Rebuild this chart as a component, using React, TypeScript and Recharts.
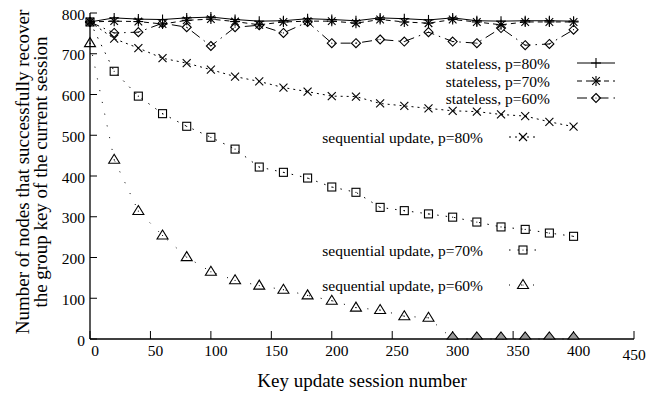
import { LineChart, Line, XAxis, YAxis, Legend } from 'recharts'

const sessions = [0, 20, 40, 60, 80, 100, 120, 140, 160, 180, 200, 220, 240, 260, 280, 300, 320, 340, 360, 380, 400]

const stateless80 = [778, 788, 785, 784, 788, 790, 784, 780, 781, 786, 784, 781, 788, 786, 783, 788, 781, 780, 781, 781, 780]
const stateless70 = [778, 780, 779, 773, 782, 785, 779, 771, 778, 780, 780, 775, 784, 778, 775, 784, 778, 771, 778, 778, 778]
const stateless60 = [778, 751, 753, 775, 765, 719, 765, 770, 751, 778, 726, 726, 735, 730, 753, 730, 726, 763, 721, 724, 759]
const sequential80 = [778, 737, 714, 689, 677, 661, 644, 632, 617, 607, 596, 595, 578, 572, 566, 560, 558, 551, 547, 533, 521]
const sequential70 = [778, 657, 596, 553, 522, 495, 466, 422, 409, 395, 373, 360, 323, 315, 307, 299, 287, 275, 269, 260, 252]
const sequential60 = [726, 440, 314, 254, 201, 165, 144, 131, 121, 107, 94, 77, 71, 56, 52, 0, 0, 0, 0, 0, 0]

const xTicks = [0, 50, 100, 150, 200, 250, 300, 350, 400, 450]
const yTicks = [0, 100, 200, 300, 400, 500, 600, 700, 800]

const FONT = '"Liberation Serif", "Times New Roman", Times, serif'

type MarkKind = 'plus' | 'star' | 'diamond' | 'cross' | 'square' | 'triangle'

const series: { key: string; name: string; values: number[]; mark: MarkKind; dash?: string }[] = [
  { key: 'q60', name: 'sequential update, p=60%', values: sequential60, mark: 'triangle', dash: '1 11' },
  { key: 'q70', name: 'sequential update, p=70%', values: sequential70, mark: 'square', dash: '1.5 7' },
  { key: 'q80', name: 'sequential update, p=80%', values: sequential80, mark: 'cross', dash: '2 4' },
  { key: 's60', name: 'stateless, p=60%', values: stateless60, mark: 'diamond', dash: '10 5 1.5 5' },
  { key: 's70', name: 'stateless, p=70%', values: stateless70, mark: 'star', dash: '5 4' },
  { key: 's80', name: 'stateless, p=80%', values: stateless80, mark: 'plus' },
]

// where each key entry sits (text right edge, sample line, marker)
const keyLayout: Record<string, { tx: number; y: number; x1: number; x2: number; mx: number }> = {
  s80: { tx: 550, y: 63, x1: 577, x2: 615, mx: 596 },
  s70: { tx: 550, y: 81, x1: 577, x2: 615, mx: 596 },
  s60: { tx: 550, y: 98, x1: 577, x2: 615, mx: 596 },
  q80: { tx: 483, y: 137, x1: 509, x2: 537, mx: 523 },
  q70: { tx: 483, y: 250, x1: 509, x2: 537, mx: 523 },
  q60: { tx: 483, y: 285, x1: 509, x2: 537, mx: 523 },
}

const rows = sessions.map((x, i) => {
  const row: Record<string, number> = { x }
  series.forEach(s => { row[s.key] = s.values[i] })
  return row
})

function Mark({ kind, cx, cy, zero }: { kind: MarkKind; cx: number; cy: number; zero?: boolean }) {
  const st = { stroke: '#000', strokeWidth: 1.1, fill: 'none' }
  const dot = <circle cx={cx} cy={cy} r={0.6} fill="#000" />
  switch (kind) {
    case 'plus':
      return (
        <g>
          <line x1={cx - 5} y1={cy} x2={cx + 5} y2={cy} {...st} />
          <line x1={cx} y1={cy - 5} x2={cx} y2={cy + 5} {...st} />
        </g>
      )
    case 'star':
      return (
        <g>
          <line x1={cx - 5} y1={cy} x2={cx + 5} y2={cy} {...st} />
          <line x1={cx} y1={cy - 5} x2={cx} y2={cy + 5} {...st} />
          <line x1={cx - 3.8} y1={cy - 3.8} x2={cx + 3.8} y2={cy + 3.8} {...st} />
          <line x1={cx - 3.8} y1={cy + 3.8} x2={cx + 3.8} y2={cy - 3.8} {...st} />
        </g>
      )
    case 'cross':
      return (
        <g>
          <line x1={cx - 4} y1={cy - 4} x2={cx + 4} y2={cy + 4} {...st} />
          <line x1={cx - 4} y1={cy + 4} x2={cx + 4} y2={cy - 4} {...st} />
        </g>
      )
    case 'diamond':
      return (
        <g>
          <polygon points={`${cx},${cy - 4.5} ${cx + 4.5},${cy} ${cx},${cy + 4.5} ${cx - 4.5},${cy}`} {...st} />
          {dot}
        </g>
      )
    case 'square':
      return (
        <g>
          <rect x={cx - 4} y={cy - 4} width={8} height={8} {...st} />
          {dot}
        </g>
      )
    case 'triangle':
      if (zero) {
        return (
          <polygon points={`${cx},${cy - 7} ${cx + 5.5},${cy} ${cx - 5.5},${cy}`} stroke="#000" strokeWidth={1.1} fill="#999" />
        )
      }
      return (
        <g>
          <polygon points={`${cx},${cy - 5.5} ${cx + 5.5},${cy + 3.5} ${cx - 5.5},${cy + 3.5}`} {...st} />
          {dot}
        </g>
      )
  }
  return null
}

const XTick = (props: any) => {
  const { x, y, payload } = props
  const last = payload.value === 450
  return (
    <text x={last ? x : x + 5} y={y + (last ? 4 : 0)} dy="0.71em" textAnchor="middle" fontFamily={FONT} fontSize={15.5} fill="#000">
      {payload.value}
    </text>
  )
}

const YTick = (props: any) => {
  const { x, y, payload } = props
  return (
    <text x={x} y={y + 1} textAnchor="end" dominantBaseline="central" fontFamily={FONT} fontSize={15.5} fill="#000">
      {payload.value}
    </text>
  )
}

const YTitle = (props: any) => {
  const vb = props.viewBox
  const cy = vb.y + vb.height / 2 - 4
  return (
    <g fontFamily={FONT} fontSize={19} fill="#000">
      <text x={22} y={cy} transform={`rotate(-90 22 ${cy})`} textAnchor="middle" dominantBaseline="central">
        Number of nodes that successfully recover
      </text>
      <text x={40} y={cy} transform={`rotate(-90 40 ${cy})`} textAnchor="middle" dominantBaseline="central">
        the group key of the current session
      </text>
    </g>
  )
}

const XTitle = (props: any) => {
  const vb = props.viewBox
  return (
    <text x={vb.x + vb.width / 2} y={vb.y + 48} textAnchor="middle" fontFamily={FONT} fontSize={19} fill="#000">
      Key update session number
    </text>
  )
}

const KeyBox = () => (
  <svg width={647} height={394}>
    {series.map(s => {
      const k = keyLayout[s.key]
      return (
        <g key={s.key}>
          <text x={k.tx} y={k.y} textAnchor="end" dominantBaseline="central" fontFamily={FONT} fontSize={15.5} fill="#000">
            {s.name}
          </text>
          <line x1={k.x1} y1={k.y} x2={k.x2} y2={k.y} stroke="#000" strokeWidth={1} strokeDasharray={s.dash} />
          <Mark kind={s.mark} cx={k.mx} cy={k.y} />
        </g>
      )
    })}
  </svg>
)

const axisLine = { stroke: '#000', strokeWidth: 1.3 }
const tickLine = { stroke: '#000', strokeWidth: 1 }

export default function App() {
  return (
    <div style={{ position: 'absolute', left: 0, top: 0, width: 647, height: 394, background: '#fff' }}>
      <LineChart width={647} height={394} data={rows} margin={{ top: 13, right: 13, bottom: 0, left: 30 }}>
        <XAxis
          dataKey="x"
          type="number"
          domain={[0, 450]}
          ticks={xTicks}
          height={55}
          axisLine={axisLine}
          tickLine={tickLine}
          tickSize={-8}
          tickMargin={14}
          tick={<XTick />}
          label={<XTitle />}
        />
        <XAxis
          xAxisId="top"
          orientation="top"
          dataKey="x"
          type="number"
          domain={[0, 450]}
          ticks={xTicks}
          height={0}
          axisLine={axisLine}
          tickLine={tickLine}
          tickSize={-7}
          tick={() => <g />}
        />
        <YAxis
          type="number"
          domain={[0, 800]}
          ticks={yTicks}
          width={60}
          axisLine={axisLine}
          tickLine={tickLine}
          tickSize={-7}
          tickMargin={12}
          tick={<YTick />}
          label={<YTitle />}
        />
        <YAxis
          yAxisId="right"
          orientation="right"
          type="number"
          domain={[0, 800]}
          ticks={yTicks}
          width={0}
          axisLine={axisLine}
          tickLine={tickLine}
          tickSize={-7}
          tick={() => <g />}
        />
        <Legend
          layout="vertical"
          align="center"
          verticalAlign="middle"
          wrapperStyle={{ position: 'absolute', left: 0, top: 0, width: 647, height: 394, pointerEvents: 'none' }}
          content={() => <KeyBox />}
        />
        {series.map(s => (
          <Line
            key={s.key}
            type="linear"
            dataKey={s.key}
            name={s.name}
            stroke="#000"
            strokeWidth={1}
            strokeDasharray={s.dash}
            dot={(p: any) => <Mark key={`${s.key}-${p.index}`} kind={s.mark} cx={p.cx} cy={p.cy} zero={p.value === 0} />}
            activeDot={false}
            isAnimationActive={false}
          />
        ))}
      </LineChart>
    </div>
  )
}
